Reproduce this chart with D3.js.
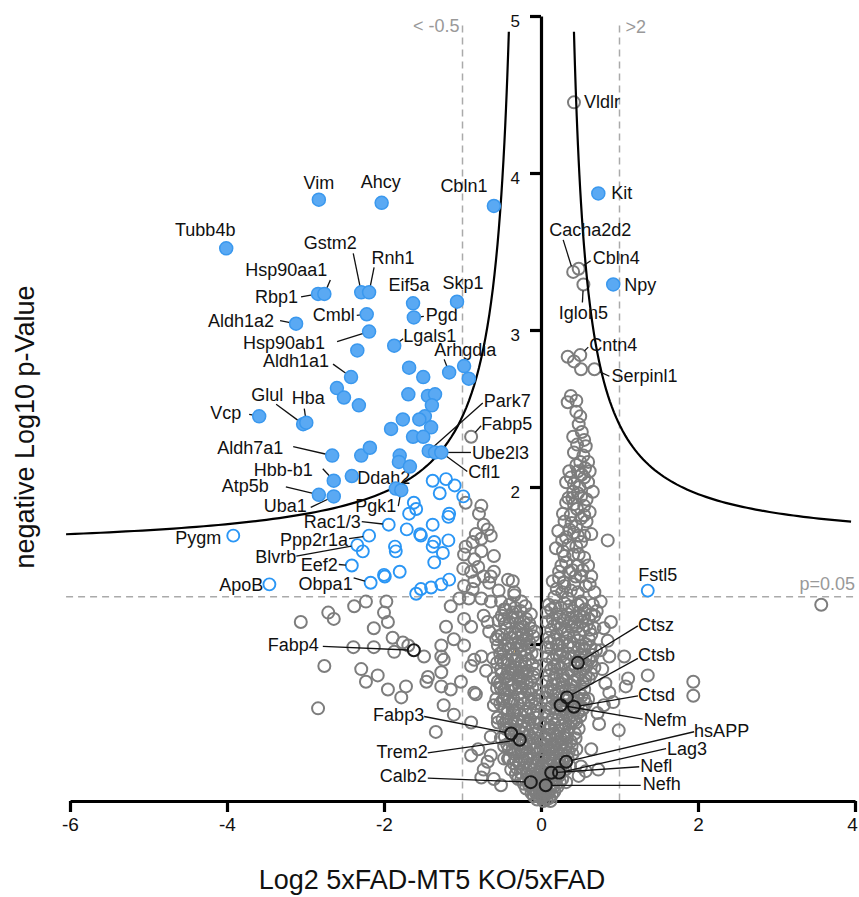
<!DOCTYPE html>
<html>
<head>
<meta charset="utf-8">
<script src="https://d3js.org/d3.v7.min.js"></script>
<style>
  body { margin: 0; background: #fff; }
  text { font-family: "Liberation Sans", Arial, sans-serif; }
</style>
</head>
<body>
<script>

  // ---- data (log2 ratio, -log10 p) ----
  var xTicks = [-6, -4, -2, 0, 2, 4];
  var yTicks = [1, 2, 3, 4, 5];
  var pCut = 0.05;
  var foldLeft = -1, foldRight = 1;

  // threshold curves: y = c / (|x| - x0) + y0
  var cutLeft = { x0: 0.2, c: 0.696, y0: 1.58, from: 6.05 };
  var cutRight = { x0: 0.24, c: 0.59, y0: 1.62, from: 3.95 };

  // significant, filled blue
  var blueFilled = [
    ['Vim', -2.83, 3.83], ['Ahcy', -2.03, 3.81], ['Cbln1', -0.60, 3.79], ['Tubb4b', -4.01, 3.52],
    ['Kit', 0.73, 3.87], ['Npy', 0.92, 3.29], ['Rbp1', -2.84, 3.23], ['Hsp90aa1', -2.76, 3.23],
    ['Gstm2', -2.29, 3.24], ['Rnh1', -2.19, 3.24], ['Aldh1a2', -3.12, 3.04], ['Eif5a', -1.63, 3.17],
    ['Skp1', -1.07, 3.18], ['Cmbl', -2.22, 3.10], ['Pgd', -1.62, 3.08], ['Hsp90ab1', -2.19, 2.99],
    ['', -2.34, 2.87], ['Lgals1', -1.87, 2.90], ['', -1.68, 2.76], ['', -1.50, 2.70],
    ['Arhgdia', -1.17, 2.73], ['', -0.98, 2.77], ['', -0.92, 2.69], ['Aldh1a1', -2.42, 2.70],
    ['', -2.60, 2.63], ['', -2.51, 2.57], ['', -2.32, 2.52], ['', -1.69, 2.59],
    ['', -1.44, 2.58], ['', -1.35, 2.59], ['', -1.39, 2.52], ['', -1.48, 2.45],
    ['', -1.55, 2.43], ['Glul', -3.03, 2.40], ['Hba', -2.99, 2.41], ['Vcp', -3.59, 2.45],
    ['', -1.76, 2.43], ['', -1.91, 2.37], ['', -1.40, 2.38], ['', -1.63, 2.32],
    ['', -1.50, 2.32], ['Aldh7a1', -2.66, 2.20], ['', -2.29, 2.20], ['', -2.18, 2.25],
    ['', -1.80, 2.20], ['', -1.81, 2.16], ['', -1.67, 2.13], ['Park7', -1.43, 2.23],
    ['Ube2l3', -1.35, 2.22], ['Cfl1', -1.27, 2.22], ['Hbb-b1', -2.64, 2.04], ['', -2.41, 2.07],
    ['Atp5b', -2.83, 1.95], ['Uba1', -2.64, 1.94], ['Ddah2', -1.85, 1.99], ['Pgk1', -1.78, 1.98]
  ];

  // p < 0.05 but inside the curves, open blue
  var blueOpen = [
    ['', -1.38, 2.04], ['', -1.21, 2.05], ['', -1.29, 1.96], ['', -1.10, 2.01], ['', -0.99, 1.94],
    ['', -1.62, 1.90], ['', -1.59, 1.86], ['', -1.68, 1.83], ['Rac1/3', -1.94, 1.76], ['', -1.17, 1.83],
    ['', -1.38, 1.76], ['', -1.71, 1.73], ['', -1.54, 1.70], ['', -1.36, 1.65], ['', -1.38, 1.62],
    ['', -1.18, 1.66], ['', -1.86, 1.62], ['', -1.85, 1.59], ['', -1.25, 1.58], ['', -1.36, 1.52],
    ['', -1.99, 1.43], ['', -1.80, 1.46], ['', -1.17, 1.41], ['', -1.27, 1.38], ['', -1.40, 1.36],
    ['', -1.53, 1.35], ['', -1.59, 1.32], ['Ppp2r1a', -2.19, 1.69], ['Blvrb', -2.34, 1.63], ['', -2.27, 1.59],
    ['Eef2', -2.41, 1.50], ['', -2.00, 1.44], ['Obpa1', -2.17, 1.39], ['', -1.18, 1.81], ['', -1.53, 1.69],
    ['Pygm', -3.92, 1.69], ['ApoB', -3.46, 1.38], ['Fstl5', 1.36, 1.34]
  ];

  // highlighted, not significant
  var blackOpen = [
    ['Fabp4', -1.62, 0.96], ['Fabp3', -0.38, 0.43], ['Trem2', -0.27, 0.39], ['Calb2', -0.13, 0.12],
    ['Ctsz', 0.47, 0.88], ['Ctsb', 0.33, 0.66], ['Ctsd', 0.42, 0.60], ['Nefm', 0.25, 0.61],
    ['hsAPP', 0.32, 0.25], ['Lag3', 0.23, 0.18], ['Nefl', 0.13, 0.18], ['Nefh', 0.06, 0.10]
  ];

  // named grey ones
  var grayNamed = [
    ['Vldlr', 0.42, 4.45], ['Cacha2d2', 0.41, 3.37], ['Cbln4', 0.48, 3.39], ['Iglon5', 0.54, 3.29],
    ['Cntn4', 0.50, 2.84], ['Serpinl1', 0.68, 2.75], ['Fabp5', -0.89, 2.32]
  ];

  // all other proteins
  var grayOpen = [
    // right column above p=0.05
    [0.34,2.83],[0.42,2.80],[0.51,2.75],[0.38,2.58],[0.34,2.54],[0.50,2.45],[0.48,2.40],[0.52,2.35],
    [0.46,2.27],[0.57,2.26],[0.42,2.22],[0.54,2.20],[0.60,2.16],[0.50,2.16],[0.36,2.10],[0.47,2.10],
    [0.62,2.10],[0.55,2.06],[0.32,2.03],[0.42,2.02],[0.60,2.03],[0.66,1.97],[0.41,1.97],[0.51,1.94],
    [0.32,1.90],[0.42,1.89],[0.55,1.88],[0.62,1.84],[0.28,1.83],[0.38,1.82],[0.51,1.80],[0.45,1.75],
    [0.36,1.73],[0.64,1.70],[0.85,1.66],[0.32,1.68],[0.42,1.71],[0.51,1.65],[0.19,1.61],[0.28,1.59],
    [0.41,1.57],[0.55,1.55],[0.32,1.52],[0.47,1.50],[0.60,1.50],[0.23,1.46],[0.36,1.46],[0.51,1.43],
    [0.64,1.43],[0.29,1.39],[0.42,1.38],[0.57,1.37],[0.68,1.33],[0.17,1.30],[0.34,1.29],[0.51,1.27],
    [0.76,1.27],[0.22,1.72],[0.26,1.50],[0.45,1.62],[0.55,1.69],[0.40,1.93],[0.49,2.00],[0.58,1.78],
    [0.30,1.37],[0.44,1.43],[0.15,1.40],[0.20,1.35],[0.62,1.38],
    [0.27,1.33],[0.38,1.34],[0.47,1.33],[0.23,1.42],[0.40,1.47],[0.53,1.47],[0.30,1.56],[0.48,1.57],
    [0.35,1.63],[0.27,1.66],[0.47,1.69],[0.39,1.77],[0.30,1.78],[0.55,1.82],[0.46,1.86],[0.35,1.93],
    [0.58,1.92],[0.47,1.96],[0.38,2.06],[0.52,2.08],[0.45,2.14],[0.56,2.12],[0.41,2.32],[0.55,2.30],
    [0.45,2.48],[0.45,2.55],
    // left, above p=0.05
    [-0.96,1.90],[-0.76,1.88],[-0.79,1.83],[-0.73,1.76],[-0.68,1.73],[-0.83,1.70],[-0.76,1.67],
    [-0.64,1.69],[-0.96,1.62],[-0.87,1.65],[-0.98,1.57],[-0.85,1.54],[-0.76,1.59],[-0.60,1.56],
    [-0.99,1.48],[-0.89,1.46],[-0.80,1.49],[-0.73,1.43],[-0.85,1.40],[-0.66,1.39],[-0.64,1.43],
    [-0.36,1.40],[-0.54,1.34],[-0.98,1.37],[-0.87,1.35],[-1.04,1.29],[-0.92,1.29],[-0.76,1.29],
    [-0.64,1.27],[-0.51,1.27],[-0.25,1.27],[-1.97,1.27],[-0.42,1.41],[-0.34,1.33],[-0.60,1.46],
    // left, below p=0.05
    [-3.06,1.14],[-2.71,1.20],[-2.64,1.16],[-2.38,1.24],[-2.23,1.27],[-2.00,1.20],[-1.95,1.14],
    [-2.13,1.10],[-1.89,1.04],[-1.76,1.01],[-1.69,0.99],[-2.39,0.98],[-2.13,0.98],[-1.87,0.95],
    [-1.49,0.92],[-1.27,0.99],[-1.27,0.92],[-2.76,0.86],[-2.29,0.84],[-2.08,0.80],[-2.23,0.76],
    [-1.95,0.71],[-1.78,0.66],[-1.72,0.73],[-1.46,0.76],[-1.27,0.82],[-1.27,0.73],[-1.15,0.71],
    [-1.02,0.76],[-0.83,0.68],[-2.84,0.59],[-1.24,0.61],[-1.11,0.55],[-1.34,0.44],[-0.80,0.33],
    [-0.76,0.15],[-0.89,0.50],[-0.98,1.16],[-1.15,1.24],[-0.98,0.99],[-0.76,0.92],[-0.89,0.86],
    [-0.66,1.08],[-0.55,0.99],[-0.73,1.18],[-0.47,1.16],[-0.34,1.31],[-0.42,0.82],[-0.29,0.80],
    [-0.38,0.73],[-0.47,0.65],[-0.60,0.61],[-0.34,0.57],[-0.55,0.50],[-0.38,0.48],[-0.64,0.41],
    [-0.47,0.35],[-0.68,0.25],[-0.42,0.27],[-0.25,0.31],[-0.60,0.14],[-0.51,0.10],[-1.24,0.90],
    [-1.44,0.79],[-0.85,0.69],[-0.73,0.20],[-0.64,0.29],[-0.89,0.29],[-1.21,1.11],[-1.11,1.03],
    [-0.85,0.90],[-0.70,0.83],[-0.89,1.11],[-0.68,1.14],[-0.47,1.22],[-0.23,1.11],[-0.19,1.03],
    [-0.55,1.05],[-0.42,0.97],[-0.51,0.90],[-0.34,0.89],[-0.25,0.82],[-0.55,0.76],
    // left core
    [-0.45,1.22],[-0.26,1.21],[-0.54,1.15],[-0.36,1.17],[-0.19,1.16],[-0.44,1.10],[-0.28,1.09],
    [-0.13,1.10],[-0.57,1.03],[-0.38,1.04],[-0.22,1.02],[-0.48,0.96],[-0.31,0.97],[-0.15,0.98],
    [-0.61,0.91],[-0.43,0.90],[-0.25,0.89],[-0.51,0.84],[-0.33,0.85],[-0.17,0.83],[-0.60,0.78],
    [-0.42,0.77],[-0.25,0.78],[-0.10,0.79],[-0.51,0.72],[-0.33,0.71],[-0.17,0.70],[-0.57,0.65],
    [-0.41,0.64],[-0.24,0.66],[-0.08,0.65],[-0.47,0.59],[-0.31,0.58],[-0.14,0.59],[-0.55,0.53],
    [-0.38,0.52],[-0.22,0.51],[-0.06,0.53],[-0.45,0.46],[-0.28,0.45],[-0.11,0.46],[-0.51,0.40],
    [-0.36,0.39],[-0.19,0.38],[-0.05,0.40],[-0.41,0.33],[-0.24,0.32],[-0.09,0.33],[-0.47,0.27],
    [-0.32,0.26],[-0.17,0.27],[-0.03,0.26],[-0.38,0.20],[-0.23,0.21],[-0.08,0.20],[-0.29,0.14],
    [-0.15,0.13],[0.00,0.14],[-0.19,0.08],[-0.06,0.07],[0.06,0.08],[-0.09,0.03],[0.01,0.02],[0.04,0.04],
    [-0.36,1.20],[-0.46,1.13],[-0.27,1.13],[-0.50,1.06],[-0.33,1.07],[-0.18,1.06],[-0.42,1.00],
    [-0.25,0.99],[-0.52,0.94],[-0.36,0.93],[-0.19,0.93],[-0.42,0.87],[-0.25,0.86],[-0.11,0.87],
    [-0.50,0.81],[-0.34,0.81],[-0.18,0.81],[-0.52,0.75],[-0.35,0.74],[-0.18,0.75],[-0.46,0.68],
    [-0.29,0.68],[-0.13,0.68],[-0.52,0.62],[-0.39,0.62],[-0.22,0.62],[-0.07,0.62],[-0.43,0.56],
    [-0.26,0.55],[-0.10,0.56],[-0.47,0.49],[-0.31,0.49],[-0.16,0.49],[-0.38,0.43],[-0.23,0.43],
    [-0.07,0.43],[-0.43,0.36],[-0.29,0.36],[-0.14,0.36],[-0.34,0.30],[-0.18,0.30],[-0.04,0.30],
    [-0.28,0.24],[-0.13,0.23],[0.01,0.23],[-0.32,0.17],[-0.18,0.17],[-0.04,0.17],[-0.22,0.11],
    [-0.10,0.11],[0.03,0.11],[-0.12,0.05],[-0.02,0.05],
    [-0.40,1.25],[-0.20,1.24],[-0.50,1.18],[-0.30,1.17],[-0.15,1.13],[-0.39,1.07],[-0.23,1.06],
    [-0.10,1.05],[-0.46,0.99],[-0.28,1.01],[-0.12,0.94],[-0.56,0.88],[-0.38,0.84],[-0.20,0.87],
    [-0.07,0.84],[-0.45,0.79],[-0.29,0.77],[-0.13,0.76],[-0.47,0.71],[-0.24,0.72],[-0.06,0.71],
    [-0.35,0.65],[-0.16,0.64],[-0.03,0.67],[-0.42,0.58],[-0.20,0.57],[-0.04,0.57],[-0.49,0.52],
    [-0.30,0.52],[-0.14,0.52],[-0.02,0.49],[-0.40,0.46],[-0.20,0.46],[-0.03,0.45],[-0.46,0.41],
    [-0.28,0.40],[-0.11,0.40],[0.00,0.37],[-0.36,0.33],[-0.19,0.34],[-0.06,0.34],[-0.40,0.27],
    [-0.24,0.27],[-0.10,0.27],[0.02,0.28],[-0.31,0.21],[-0.15,0.21],[-0.02,0.20],[-0.25,0.14],
    [-0.09,0.15],[0.03,0.16],[-0.15,0.10],[-0.03,0.10],[0.06,0.12],[-0.08,0.06],[0.00,0.04],
    [-0.05,0.01],[0.03,0.00],
    [-0.33,1.23],[-0.13,1.19],[-0.40,1.14],[-0.22,1.14],[-0.08,1.08],[-0.47,1.03],[-0.30,1.04],
    [-0.15,1.01],[-0.38,0.97],[-0.21,0.96],[-0.06,0.93],[-0.48,0.88],[-0.31,0.90],[-0.16,0.90],
    [-0.40,0.81],[-0.23,0.82],[-0.09,0.81],[-0.56,0.72],[-0.40,0.70],[-0.28,0.73],[-0.11,0.72],
    [-0.49,0.64],[-0.30,0.62],[-0.12,0.63],[-0.36,0.57],[-0.17,0.55],[-0.44,0.51],[-0.25,0.48],
    [-0.09,0.50],[-0.33,0.44],[-0.15,0.42],[-0.38,0.38],[-0.24,0.37],[-0.10,0.37],[-0.29,0.32],
    [-0.14,0.30],[-0.01,0.33],[-0.35,0.24],[-0.20,0.25],[-0.06,0.24],[-0.26,0.18],[-0.12,0.17],
    [0.00,0.19],[-0.19,0.13],[-0.06,0.13],[-0.11,0.08],[0.01,0.09],[-0.03,0.03],
    // right core
    [0.13,1.22],[0.25,1.23],[0.40,1.21],[0.56,1.22],[0.71,1.21],[0.15,1.16],[0.29,1.15],[0.45,1.17],
    [0.61,1.16],[0.13,1.09],[0.25,1.10],[0.39,1.11],[0.54,1.09],[0.68,1.10],[0.17,1.03],[0.32,1.04],
    [0.47,1.02],[0.61,1.03],[0.13,0.97],[0.27,0.96],[0.41,0.98],[0.55,0.97],[0.70,0.96],[0.15,0.90],
    [0.31,0.91],[0.46,0.89],[0.61,0.90],[0.13,0.84],[0.25,0.85],[0.39,0.83],[0.54,0.84],[0.68,0.85],
    [0.17,0.78],[0.32,0.77],[0.47,0.79],[0.61,0.78],[0.13,0.71],[0.27,0.72],[0.41,0.70],[0.55,0.71],
    [0.15,0.65],[0.31,0.64],[0.46,0.66],[0.60,0.65],[0.11,0.59],[0.25,0.58],[0.39,0.60],[0.54,0.59],
    [0.14,0.52],[0.28,0.53],[0.42,0.51],[0.10,0.46],[0.23,0.45],[0.36,0.47],[0.48,0.46],[0.13,0.39],
    [0.25,0.40],[0.38,0.38],[0.09,0.33],[0.20,0.32],[0.32,0.34],[0.45,0.33],[0.11,0.27],[0.23,0.26],
    [0.34,0.27],[0.06,0.20],[0.17,0.21],[0.28,0.19],[0.09,0.14],[0.19,0.13],[0.01,0.08],[0.11,0.07],
    [0.20,1.19],[0.34,1.19],[0.50,1.18],[0.64,1.19],[0.21,1.13],[0.36,1.13],[0.52,1.14],[0.20,1.06],
    [0.34,1.07],[0.50,1.06],[0.64,1.06],[0.22,1.00],[0.37,1.01],[0.52,0.99],[0.20,0.93],[0.35,0.94],
    [0.50,0.93],[0.66,0.93],[0.21,0.87],[0.37,0.87],[0.52,0.88],[0.19,0.81],[0.34,0.81],[0.50,0.82],
    [0.64,0.81],[0.22,0.75],[0.38,0.74],[0.53,0.75],[0.19,0.68],[0.34,0.68],[0.49,0.69],[0.20,0.62],
    [0.33,0.61],[0.48,0.62],[0.19,0.56],[0.33,0.55],[0.47,0.56],[0.17,0.49],[0.31,0.49],[0.45,0.50],
    [0.17,0.43],[0.30,0.42],[0.43,0.43],[0.15,0.36],[0.27,0.36],[0.39,0.35],[0.14,0.30],[0.26,0.30],
    [0.12,0.24],[0.23,0.23],[0.12,0.17],[0.23,0.16],[0.04,0.11],[0.14,0.10],[0.06,0.05],
    [0.10,1.25],[0.30,1.26],[0.47,1.25],[0.17,1.12],[0.43,1.14],[0.58,1.12],[0.10,1.04],[0.27,1.01],
    [0.42,1.05],[0.57,1.00],[0.09,0.92],[0.24,0.93],[0.42,0.92],[0.57,0.92],[0.10,0.80],[0.28,0.80],
    [0.43,0.77],[0.57,0.80],[0.08,0.70],[0.23,0.69],[0.37,0.71],[0.52,0.67],[0.09,0.62],[0.27,0.60],
    [0.43,0.58],[0.57,0.62],[0.08,0.54],[0.22,0.52],[0.36,0.53],[0.50,0.54],[0.07,0.42],[0.20,0.41],
    [0.34,0.44],[0.44,0.40],[0.06,0.36],[0.18,0.35],[0.30,0.32],[0.40,0.30],[0.05,0.28],[0.16,0.26],
    [0.27,0.25],[0.37,0.22],[0.03,0.22],[0.14,0.20],[0.25,0.20],[0.02,0.16],[0.10,0.16],[0.18,0.15],
    [0.27,0.14],[0.03,0.13],[0.08,0.11],[0.16,0.09],[0.21,0.09],[0.00,0.06],[0.09,0.05],[0.14,0.04],
    [0.03,0.03],[0.07,0.01],[0.11,0.02],
    [0.08,1.20],[0.18,1.24],[0.36,1.24],[0.52,1.26],[0.66,1.25],[0.08,1.14],[0.24,1.17],[0.38,1.16],
    [0.55,1.17],[0.11,1.01],[0.30,1.09],[0.46,1.11],[0.62,1.09],[0.08,0.98],[0.20,0.99],[0.34,0.99],
    [0.48,0.97],[0.63,0.98],[0.07,0.87],[0.17,0.86],[0.29,0.88],[0.44,0.85],[0.58,0.86],[0.07,0.76],
    [0.15,0.74],[0.27,0.77],[0.41,0.76],[0.56,0.77],[0.06,0.66],[0.16,0.70],[0.29,0.66],[0.42,0.64],
    [0.55,0.65],[0.06,0.57],[0.14,0.60],[0.30,0.58],[0.40,0.55],[0.52,0.58],[0.05,0.49],[0.13,0.47],
    [0.26,0.48],[0.38,0.50],[0.04,0.40],[0.11,0.42],[0.22,0.38],[0.33,0.40],[0.03,0.33],[0.12,0.33],
    [0.24,0.34],[0.35,0.31],[0.07,0.24],[0.19,0.28],[0.30,0.27],[0.05,0.18],[0.20,0.18],[0.31,0.20],
    [0.13,0.13],[0.24,0.12],[0.05,0.09],[0.17,0.06],[0.12,0.00],[0.04,0.07],
    // right, sparse
    [0.89,1.14],[1.06,0.92],[0.87,0.92],[1.11,0.78],[1.08,0.73],[1.36,0.80],[1.94,0.76],[1.94,0.67],
    [0.87,0.69],[0.80,0.61],[0.74,0.49],[0.99,0.45],[0.73,0.20],[0.57,0.19],[0.48,0.16],[0.32,0.12],
    [0.64,0.89],[0.76,0.96],[0.80,1.10],[0.68,1.18],[0.64,0.33],[0.51,0.22],[3.57,1.25],[0.82,0.75],
    [0.78,0.84],[0.72,0.56],[0.85,1.02],[0.92,0.63]
  ];

  // label placement: [dx, dy, anchor, lineDx, lineDy] in px from the point
  var labelLayout = {
    'Vim': [0, -11, 'middle'], 'Ahcy': [-1, -15, 'middle'], 'Cbln1': [-30, -14, 'middle'],
    'Tubb4b': [-21, -12, 'middle'], 'Hsp90aa1': [3, -18, 'end', 6, -14], 'Rbp1': [-20, 9, 'end', -17, 3],
    'Gstm2': [-31, -43, 'middle', -8, -39], 'Rnh1': [24, -28, 'middle', 5, -25],
    'Aldh1a2': [-22, 3, 'end', -16, -3], 'Cmbl': [-12, 7, 'end', -10, 1], 'Eif5a': [-4, -12, 'middle'],
    'Skp1': [6, -13, 'middle'], 'Pgd': [12, 4, 'start', 10, -1], 'Hsp90ab1': [-44, 17, 'end', -32, 10],
    'Lgals1': [9, -4, 'start', 9, -7], 'Aldh1a1': [-22, -10, 'end', -18, -13],
    'Arhgdia': [16, -16, 'middle', -5, -13], 'Glul': [-36, -23, 'middle', -27, -20],
    'Hba': [2, -19, 'middle', -2, -14], 'Vcp': [-18, 3, 'end', -10, -2],
    'Aldh7a1': [-49, -2, 'end', -39, -9], 'Hbb-b1': [-21, -5, 'end', -11, -12],
    'Atp5b': [-50, -3, 'end', -33, -8], 'Uba1': [-27, 16, 'end', -23, 11],
    'Ddah2': [-12, -5, 'middle'], 'Pgk1': [-5, 22, 'end', -3, 16],
    'Rac1/3': [-28, 3, 'end', -27, -3], 'Ppp2r1a': [-21, 10, 'end', -20, 3],
    'Blvrb': [-61, 18, 'end', -61, 11], 'Eef2': [-14, 5, 'end', -13, -1], 'Obpa1': [-18, 7, 'end', -17, -5],
    'Pygm': [-12, 8, 'end'], 'ApoB': [-6, 7, 'end'],
    'Park7': [55, -44, 'start', 54, -48], 'Fabp5': [10, -7, 'start', 10, -11],
    'Ube2l3': [37, 7, 'start', 36, 0], 'Cfl1': [27, 26, 'start', 26, 19],
    'Vldlr': [10, 6, 'start'], 'Kit': [13, 6, 'start'], 'Cacha2d2': [17, -36, 'middle', -10, -32],
    'Cbln4': [14, -5, 'start', 12, -8], 'Npy': [11, 7, 'start'], 'Iglon5': [0, 35, 'middle', -1, 18],
    'Cntn4': [9, -4, 'start', 8, -8], 'Serpinl1': [17, 13, 'start', 15, 7], 'Fstl5': [10, -10, 'middle'],
    'Ctsz': [60, -32, 'start', 60, -37], 'Ctsb': [71, -36, 'start', 71, -39],
    'Ctsd': [64, -6, 'start', 64, -11], 'Nefm': [83, 21, 'start', 82, 14],
    'hsAPP': [128, -25, 'start', 128, -30], 'Lag3': [108, -18, 'start', 107, -24],
    'Nefl': [89, -1, 'start', 88, -6], 'Nefh': [97, 5, 'start', 95, 0],
    'Fabp4': [-95, 1, 'end', -91, -4], 'Fabp3': [-87, -12, 'end', -87, -17],
    'Trem2': [-92, 18, 'end', -92, 13], 'Calb2': [-104, 0, 'end', -103, -4]
  };

  // ---- chart ----
  var W = 859, H = 897, R = 6;

  var svg = d3.select('body').append('svg')
    .attr('width', W)
    .attr('height', H);

  var xScale = d3.scaleLinear().domain([-6, 4]).range([70, 855]);
  var yScale = d3.scaleLinear().domain([0, 5]).range([801, 16]);

  // dashed guides
  var guide = svg.append('g')
    .attr('stroke', '#aaa')
    .attr('stroke-width', 1.5)
    .attr('stroke-dasharray', '7,5')
    .attr('fill', 'none');
  [foldLeft, foldRight].forEach(function(f) {
    guide.append('line')
      .attr('x1', xScale(f)).attr('x2', xScale(f))
      .attr('y1', yScale(4.94)).attr('y2', yScale(0));
  });
  var pLine = -Math.log10(pCut);
  guide.append('line')
    .attr('x1', xScale(-6.05)).attr('x2', xScale(4))
    .attr('y1', yScale(pLine)).attr('y2', yScale(pLine));

  var gtext = svg.append('g').attr('fill', '#999').attr('font-size', 18);
  gtext.append('text').attr('x', xScale(foldLeft) - 3).attr('y', 32).attr('text-anchor', 'end').text('< -0.5');
  gtext.append('text').attr('x', xScale(foldRight) + 6).attr('y', 33).text('>2');
  gtext.append('text').attr('x', xScale(4)).attr('y', yScale(pLine) - 7).attr('text-anchor', 'end').text('p=0.05');

  // axes
  var fmt = function(d) { return String(d); };
  var xAxis = svg.append('g')
    .attr('transform', 'translate(0,' + yScale(0) + ')')
    .call(d3.axisBottom(xScale).tickValues(xTicks).tickFormat(fmt)
      .tickSize(11).tickSizeOuter(0).tickPadding(6));
  var yAxis = svg.append('g')
    .attr('transform', 'translate(' + xScale(0) + ',0)')
    .call(d3.axisLeft(yScale).tickValues(yTicks).tickFormat(fmt)
      .tickSize(11).tickSizeOuter(0).tickPadding(10));

  [xAxis, yAxis].forEach(function(a) {
    a.select('.domain').attr('stroke', '#000').attr('stroke-width', 3.2);
    a.selectAll('.tick line').attr('stroke', '#000').attr('stroke-width', 3.2);
    a.selectAll('.tick text').attr('fill', '#111').attr('font-family', '"Liberation Sans", Arial, sans-serif');
  });
  xAxis.selectAll('.tick text').attr('font-size', 19)
    .attr('x', function(d) { return d === 4 ? -3 : 0; });
  yAxis.selectAll('.tick text').attr('font-size', 17).attr('dy', '0.6em');

  svg.append('text')
    .attr('x', 432).attr('y', 889)
    .attr('text-anchor', 'middle')
    .attr('font-size', 27)
    .attr('fill', '#111')
    .text('Log2 5xFAD-MT5 KO/5xFAD');

  svg.append('text')
    .attr('transform', 'translate(34,427) rotate(-90)')
    .attr('text-anchor', 'middle')
    .attr('font-size', 27)
    .attr('fill', '#111')
    .text('negative Log10 p-Value');

  // points
  var pts = svg.append('g');

  pts.selectAll('circle.gray')
    .data(grayOpen.concat(grayNamed.map(function(d) { return [d[1], d[2]]; })))
    .join('circle')
      .attr('class', 'gray')
      .attr('cx', function(d) { return xScale(d[0]); })
      .attr('cy', function(d) { return yScale(d[1]); })
      .attr('r', R)
      .attr('fill', 'none')
      .attr('stroke', '#7d7d7d')
      .attr('stroke-width', 2);

  pts.selectAll('circle.black')
    .data(blackOpen)
    .join('circle')
      .attr('class', 'black')
      .attr('cx', function(d) { return xScale(d[1]); })
      .attr('cy', function(d) { return yScale(d[2]); })
      .attr('r', R)
      .attr('fill', 'none')
      .attr('stroke', '#1a1a1a')
      .attr('stroke-width', 2);

  pts.selectAll('circle.bopen')
    .data(blueOpen)
    .join('circle')
      .attr('class', 'bopen')
      .attr('cx', function(d) { return xScale(d[1]); })
      .attr('cy', function(d) { return yScale(d[2]); })
      .attr('r', R)
      .attr('fill', 'none')
      .attr('stroke', '#2a96f5')
      .attr('stroke-width', 1.9);

  // threshold curves
  function curvePts(p, sign) {
    var top = p.x0 + p.c / (4.9 - p.y0);
    return d3.range(0, 1.0001, 0.01).map(function(t) {
      var ax = top + (p.from - top) * t * t;
      return [sign * ax, p.c / (ax - p.x0) + p.y0];
    });
  }
  var line = d3.line()
    .x(function(d) { return xScale(d[0]); })
    .y(function(d) { return yScale(d[1]); });
  [[cutLeft, -1], [cutRight, 1]].forEach(function(c) {
    svg.append('path')
      .attr('d', line(curvePts(c[0], c[1])))
      .attr('fill', 'none')
      .attr('stroke', '#000')
      .attr('stroke-width', 2.2);
  });

  // labels with leader lines
  var labelled = blueFilled.concat(blueOpen, blackOpen, grayNamed)
    .filter(function(d) { return d[0] && labelLayout[d[0]]; });

  var lab = svg.append('g');
  labelled.forEach(function(d) {
    var L = labelLayout[d[0]];
    var px = xScale(d[1]), py = yScale(d[2]);
    if (L.length > 3) {
      var sx = px + L[3], sy = py + L[4];
      var dx = sx - px, dy = sy - py, len = Math.sqrt(dx * dx + dy * dy) || 1;
      lab.append('line')
        .attr('x1', sx).attr('y1', sy)
        .attr('x2', px + dx / len * R).attr('y2', py + dy / len * R)
        .attr('stroke', '#111')
        .attr('stroke-width', 1.3);
    }
    lab.append('text')
      .attr('x', px + L[0]).attr('y', py + L[1])
      .attr('text-anchor', L[2])
      .attr('font-size', 18)
      .attr('fill', '#111')
      .text(d[0]);
  });

  svg.append('g').selectAll('circle')
    .data(blueFilled)
    .join('circle')
      .attr('cx', function(d) { return xScale(d[1]); })
      .attr('cy', function(d) { return yScale(d[2]); })
      .attr('r', R + 0.5)
      .attr('fill', '#5aa9f3')
      .attr('stroke', '#3a98ee')
      .attr('stroke-width', 1.5);

</script>
</body>
</html>
